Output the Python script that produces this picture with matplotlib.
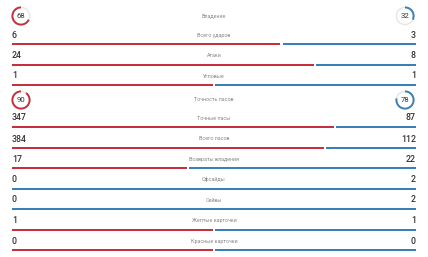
import matplotlib
matplotlib.use("Agg")
import matplotlib.pyplot as plt
from matplotlib.patches import Arc, Circle

plt.rcParams['font.family'] = ['Roboto', 'DejaVu Sans']

labels = ["Владение", "Всего ударов", "Атаки", "Угловые", "Точность пасов",
          "Точные пасы", "Всего пасов", "Возвраты владения", "Офсайды",
          "Сейвы", "Желтые карточки", "Красные карточки"]
home = [68, 6, 24, 1, 90, 347, 384, 17, 0, 0, 1, 0]
away = [32, 3, 8, 1, 78, 87, 112, 22, 2, 2, 1, 0]
is_pct = [True, False, False, False, True, False, False, False, False, False, False, False]

RED = '#c5303c'
BLUE = '#3a80b6'
TRACK = '#e6e6e6'
VAL = '#333333'
LAB = '#8a8a8a'

W, H = 428, 257
fig = plt.figure(figsize=(W / 100, H / 100), dpi=100)
ax = fig.add_axes([0, 0, 1, 1])
ax.set_xlim(0, W)
ax.set_ylim(H, 0)
ax.axis('off')

x0, x1 = 12, 416
gap = 2.5
text_y = [15.5, 35, 55.5, 76, 99.5, 118, 139, 159, 179.5, 200, 220.5, 241]
bar_off = 9.3


def ring(cx, cy, pct, color, clockwise):
    ax.add_patch(Circle((cx, cy), 8.6, facecolor='white', edgecolor=TRACK, lw=1.0))
    span = 360 * pct / 100
    # axis y is inverted, so angles are mirrored vertically: top is 270 deg
    if clockwise:
        t1, t2 = 270, 270 + span
    else:
        t1, t2 = 270 - span, 270
    ax.add_patch(Arc((cx, cy), 17.2, 17.2, theta1=t1, theta2=t2, color=color, lw=1.4))
    ax.text(cx, cy + 0.3, str(pct), ha='center', va='center', fontsize=5.6, color=VAL)


for i, lab in enumerate(labels):
    ty = text_y[i]
    ax.text(214, ty, lab, ha='center', va='center', fontsize=3.9, color=LAB)
    if is_pct[i]:
        ring(21, ty + 0.5, home[i], RED, False)
        ring(405, ty + 0.5, away[i], BLUE, True)
        continue
    ax.text(x0, ty, str(home[i]), ha='left', va='center', fontsize=6.3, color=VAL,
            fontweight='medium')
    ax.text(x1, ty, str(away[i]), ha='right', va='center', fontsize=6.3, color=VAL,
            fontweight='medium')
    tot = home[i] + away[i]
    frac = home[i] / tot if tot > 0 else 0.5
    span = x1 - x0
    by = ty + bar_off
    if frac > 0:
        ax.barh(by, frac * span - (gap / 2 if frac < 1 else 0), left=x0, height=2.2,
                color=RED, linewidth=0)
    if frac < 1:
        start = x0 + frac * span + (gap / 2 if frac > 0 else 0)
        ax.barh(by, x1 - start, left=start, height=2.2, color=BLUE, linewidth=0)

fig.savefig('out.png', dpi=100, facecolor='white')
